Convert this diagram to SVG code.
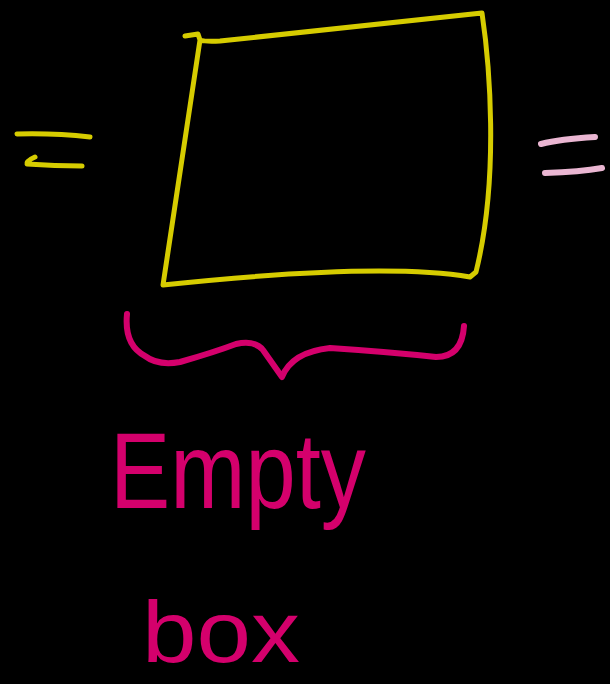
<svg xmlns="http://www.w3.org/2000/svg" width="610" height="684" viewBox="0 0 610 684">
<style>
.y{fill:none;stroke:#d6cc00;stroke-width:5;stroke-linecap:round;stroke-linejoin:round}
.pk{fill:none;stroke:#eab6d2;stroke-width:6;stroke-linecap:round}
.br{fill:none;stroke:#d4006c;stroke-width:6;stroke-linecap:round;stroke-linejoin:round}
.t{fill:#d4006c;font-family:"Liberation Sans",Arial,sans-serif}
</style>
<rect width="610" height="684" fill="#000"/>
<g id="box">
<path class="y" d="M185 36 L198 34 L200 40 Q206 42 220 41 L482 13 C489 60 500 175 476 272 L470 277 Q380 262 163 285 L200 40"/>
</g>
<g id="left-equals">
<path class="y" d="M17 134 Q55 133 90 137"/>
<path class="y" d="M35 157 Q26 161 27 164 Q55 166 82 166"/>
</g>
<g id="right-equals">
<path class="pk" d="M541 144 Q560 139 595 137"/>
<path class="pk" d="M545 173 Q580 172 602 168"/>
</g>
<g id="brace">
<path class="br" d="M127 314 Q124 345 145 356 Q158 366 180 362 Q215 352 236 344 Q255 340 263 350 L282 377 Q292 352 330 348 Q390 352 436 357 Q462 357 464 326"/>
</g>
<g id="label">
<text class="t" x="110" y="508" font-size="108" textLength="256" lengthAdjust="spacingAndGlyphs">Empty</text>
<text class="t" x="142" y="662" font-size="88" textLength="158" lengthAdjust="spacingAndGlyphs">box</text>
</g>
</svg>
